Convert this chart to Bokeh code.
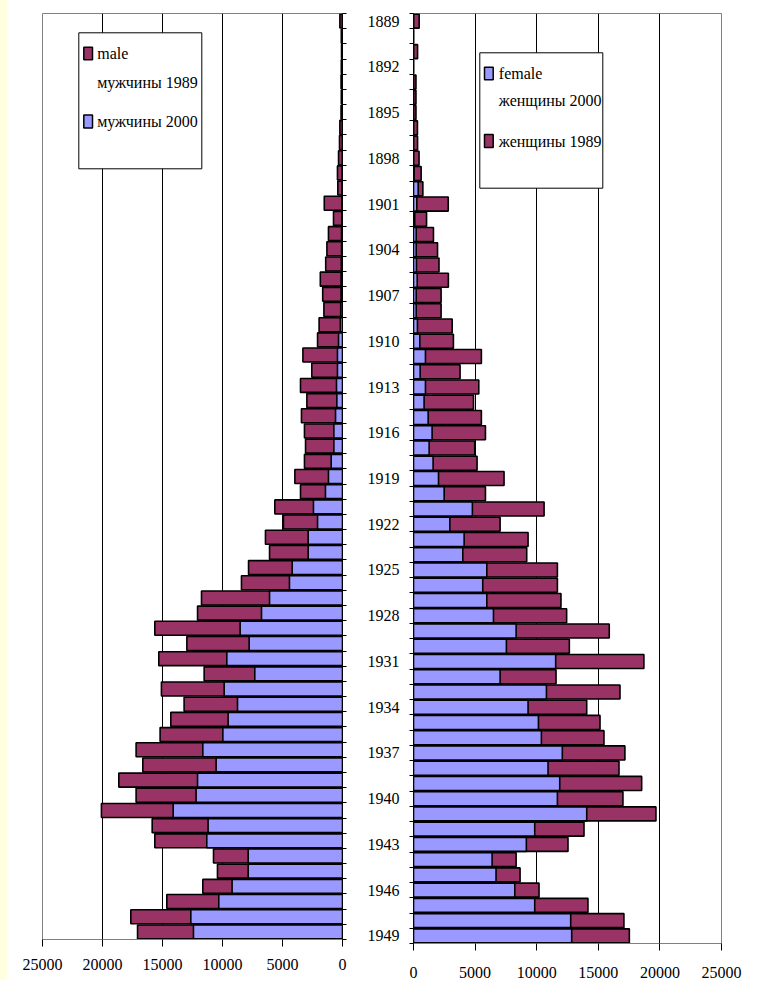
from bokeh.plotting import figure
from bokeh.layouts import row
from bokeh.models import Range1d, FixedTicker, Spacer
from bokeh.core.properties import value
from bokeh.embed import file_html
from bokeh.resources import INLINE

# ---------------- data ----------------
years = list(range(1889, 1950))
year_labels = [1889, 1892, 1895, 1898, 1901, 1904, 1907, 1910, 1913, 1916, 1919,
               1922, 1925, 1928, 1931, 1934, 1937, 1940, 1943, 1946, 1949]
x_ticks = [0, 5000, 10000, 15000, 20000, 25000]

male_1989 = [220, 100, 80, 100, 120, 100, 120, 220, 250, 330, 420, 390,
             1520, 750, 1170, 1300, 1400, 1850, 1650, 1550, 1950, 2080,
             3300, 2560, 3500, 2970, 3420, 3170, 3080, 3170, 3970, 3500,
             5640, 4920, 6420, 6080, 7830, 8420, 11750, 12080, 15640, 12970,
             15310, 11530, 15090, 13200, 14310, 15200, 17200, 16640, 18640, 17200,
             20090, 15860, 15640, 10750, 10420, 11640, 14640, 17640, 17080]
male_2000 = [0, 0, 0, 0, 0, 0, 0, 0, 0, 0, 30, 40,
             60, 60, 80, 80, 100, 120, 120, 150, 180, 330,
             420, 420, 500, 470, 580, 720, 720, 940, 1170, 1420,
             2420, 2080, 2860, 2860, 4190, 4420, 6080, 6750, 8530, 7780,
             9640, 7310, 9860, 8750, 9530, 9970, 11640, 10530, 12080, 12200,
             14110, 11200, 11310, 7860, 7860, 9200, 10310, 12640, 12420]
female_1989 = [460, 0, 330, 0, 200, 200, 200, 320, 330, 450, 620, 760,
               2820, 1060, 1620, 1950, 2070, 2830, 2240, 2240, 3140, 3240,
               5510, 3780, 5300, 4870, 5510, 5840, 4970, 5160, 7350, 5840,
               10600, 7030, 9300, 9190, 11680, 11680, 11970, 12430, 15890, 12650,
               18700, 11570, 16760, 14060, 15140, 15460, 17160, 16680, 18520, 17000,
               19680, 13840, 12540, 8330, 8650, 10190, 14160, 17080, 17520]
female_2000 = [0, 0, 0, 0, 0, 0, 0, 0, 0, 0, 50, 380,
               270, 100, 220, 220, 240, 300, 220, 220, 320, 510,
               970, 540, 970, 860, 1190, 1510, 1270, 1590, 2030, 2490,
               4780, 2950, 4110, 4000, 5950, 5620, 5950, 6490, 8330, 7540,
               11540, 7030, 10790, 9300, 10140, 10380, 12080, 10920, 11870, 11680,
               14060, 9840, 9160, 6380, 6700, 8220, 9840, 12760, 12840]

male_labels = ["male", "мужчины 1989", "мужчины 2000"]
female_labels = ["female", "женщины 2000", "женщины 1989"]

# ---------------- styles ----------------
MAROON = "#993366"
LAVENDER = "#9999FF"
FONT = "Liberation Serif"
FS = "16px"
XMAX = 25000

boundaries = [y - 0.5 for y in years] + [years[-1] + 0.5]
ny = len(years)

# panel geometry (page px)
STRIP = 7
L_X0, L_W, L_TOP, L_H = 42, 300, 8, 926
L_FIG_END = 360
R_X0, R_W, R_TOP, R_H = 413, 308, 13, 930


def lx(px):
    return (L_X0 + L_W - px) / L_W * XMAX


def ly(py):
    return years[0] - 0.5 + (py - L_TOP) / L_H * ny


def rx(px):
    return (px - R_X0) / R_W * XMAX


def ry(py):
    return years[0] - 0.5 + (py - R_TOP) / R_H * ny


def style_xaxis(ax, standoff):
    ax.ticker = FixedTicker(ticks=x_ticks)
    ax.major_tick_out = 7
    ax.major_tick_in = 0
    ax.minor_tick_out = 0
    ax.minor_tick_in = 0
    ax.axis_line_color = "#808080"
    ax.major_tick_line_color = "black"
    ax.major_label_text_font = FONT
    ax.major_label_text_font_size = FS
    ax.major_label_text_color = "black"
    ax.major_label_standoff = standoff


# ---------------- left (male) ----------------
pl = figure(frame_width=L_W, frame_height=L_H,
            min_border_left=L_X0 - STRIP, min_border_right=L_FIG_END - L_X0 - L_W,
            min_border_top=L_TOP, min_border_bottom=40,
            x_range=Range1d(XMAX, 0), y_range=Range1d(years[-1] + 0.5, years[0] - 0.5),
            y_axis_location="right", output_backend="svg", toolbar_location=None)
pl.outline_line_color = "#808080"
pl.ygrid.visible = False
pl.xgrid.ticker = FixedTicker(ticks=x_ticks[1:-1])
pl.xgrid.grid_line_color = "black"
style_xaxis(pl.xaxis[0], 12)
ya = pl.yaxis[0]
ya.ticker = FixedTicker(ticks=[], minor_ticks=boundaries)
ya.minor_tick_out = 4
ya.minor_tick_in = 0
ya.major_tick_out = 0
ya.major_tick_in = 0
ya.axis_line_color = "black"
ya.minor_tick_line_color = "black"

pl.hbar(y=years, left=0, right=male_1989, height=0.92,
        fill_color=MAROON, line_color="black", line_width=1.6)
pl.hbar(y=years, left=0, right=male_2000, height=0.92,
        fill_color=LAVENDER, line_color="black", line_width=1.6)

# legend (left)
pl.quad(left=[lx(78.3)], right=[lx(201.3)], top=[ly(27.3)], bottom=[ly(163.3)],
        fill_color="white", line_color="black", line_width=1)
pl.quad(left=[lx(83.3), lx(83.3)], right=[lx(92), lx(92)],
        top=[ly(41.7), ly(109.5)], bottom=[ly(54.3), ly(122.5)],
        fill_color=[MAROON, LAVENDER], line_color="black", line_width=1.5)
pl.text(x=[lx(96.7)] * 3, y=[ly(48), ly(77), ly(116)], text=male_labels,
        text_font=value(FONT), text_font_size=value(FS), text_color="black",
        text_align=value("left"), text_baseline=value("middle"))

# ---------------- right (female) ----------------
pr = figure(frame_width=R_W, frame_height=R_H,
            min_border_left=R_X0 - L_FIG_END, min_border_right=24,
            min_border_top=R_TOP, min_border_bottom=36,
            x_range=Range1d(0, XMAX), y_range=Range1d(years[-1] + 0.5, years[0] - 0.5),
            output_backend="svg", toolbar_location=None)
pr.outline_line_color = "#808080"
pr.ygrid.visible = False
pr.xgrid.ticker = FixedTicker(ticks=x_ticks[1:-1])
pr.xgrid.grid_line_color = "black"
style_xaxis(pr.xaxis[0], 16)
yb = pr.yaxis[0]
yb.ticker = FixedTicker(ticks=year_labels, minor_ticks=boundaries)
yb.minor_tick_out = 4
yb.minor_tick_in = 0
yb.major_tick_out = 0
yb.major_tick_in = 0
yb.axis_line_color = "black"
yb.minor_tick_line_color = "black"
yb.major_label_text_font = FONT
yb.major_label_text_font_size = FS
yb.major_label_text_color = "black"
yb.major_label_standoff = 10

pr.hbar(y=years, left=0, right=female_1989, height=0.92,
        fill_color=MAROON, line_color="black", line_width=1.6)
pr.hbar(y=years, left=0, right=female_2000, height=0.92,
        fill_color=LAVENDER, line_color="black", line_width=1.6)

# legend (right)
pr.quad(left=[rx(479.3)], right=[rx(602.3)], top=[ry(52.3)], bottom=[ry(187.7)],
        fill_color="white", line_color="black", line_width=1)
pr.quad(left=[rx(484), rx(484)], right=[rx(492.7), rx(492.7)],
        top=[ry(66.7), ry(134)], bottom=[ry(79.3), ry(147)],
        fill_color=[LAVENDER, MAROON], line_color="black", line_width=1.5)
pr.text(x=[rx(498.3)] * 3, y=[ry(73), ry(99.5), ry(140.5)], text=female_labels,
        text_font=value(FONT), text_font_size=value(FS), text_color="black",
        text_align=value("left"), text_baseline=value("middle"))

strip = Spacer(width=STRIP, height=980, styles={"background-color": "#FFFFE0"})
layout = row(strip, pl, pr)

open("out.html", "w").write(file_html(layout, INLINE))
